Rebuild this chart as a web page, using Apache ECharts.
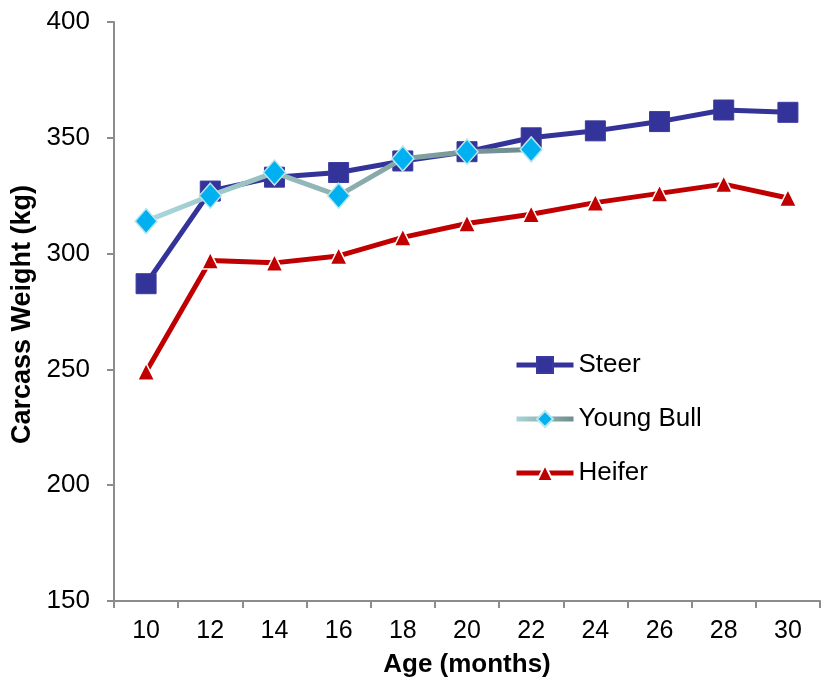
<!DOCTYPE html>
<html>
<head>
<meta charset="utf-8">
<script src="https://cdn.jsdelivr.net/npm/echarts@6/dist/echarts.min.js"></script>
<style>
  html, body { margin: 0; padding: 0; background: #fff; }
  #chart { width: 821px; height: 679px; }
</style>
</head>
<body>
<div id="chart"></div>
<script>
// Carcass weight by age at slaughter
const ages = ['10', '12', '14', '16', '18', '20', '22', '24', '26', '28', '30'];
const steer = [287, 327, 333, 335, 340, 344, 350, 353, 357, 362, 361];
const youngBull = [314, 325, 335, 325, 341, 344, 345, null, null, null, null];
const heifer = [249, 297, 296, 299, 307, 313, 317, 322, 326, 330, 324];
const yTicks = { min: 150, max: 400, step: 50 };

const font = 'Liberation Sans, Arial, sans-serif';
const axisGray = '#8c8c8c';

const chart = echarts.init(document.getElementById('chart'), null, { renderer: 'canvas' });

chart.setOption({
  animation: false,
  backgroundColor: '#ffffff',
  grid: {
    left: 114, right: 1, top: 22, bottom: 78,
    containLabel: false,
    outerBoundsMode: 'none'
  },
  legend: {
    orient: 'vertical',
    left: 509,
    top: 347,
    itemWidth: 57,
    itemHeight: 20,
    itemGap: 28,
    lineStyle: { width: 5 },
    textStyle: { fontFamily: font, fontSize: 26, color: '#000' },
    data: ['Steer', 'Young Bull', 'Heifer']
  },
  xAxis: {
    type: 'category',
    data: ages,
    boundaryGap: true,
    name: 'Age (months)',
    nameLocation: 'middle',
    nameGap: 51,
    nameTextStyle: { fontFamily: font, fontSize: 26, fontWeight: 'bold', color: '#000' },
    axisLine: { lineStyle: { color: axisGray, width: 2 } },
    axisTick: { show: true, alignWithLabel: false, length: 7, lineStyle: { color: axisGray, width: 2 } },
    axisLabel: { fontFamily: font, fontSize: 25, color: '#000', margin: 18 },
    splitLine: { show: false }
  },
  yAxis: {
    type: 'value',
    min: yTicks.min,
    max: yTicks.max,
    interval: yTicks.step,
    name: 'Carcass Weight (kg)',
    nameLocation: 'middle',
    nameGap: 77,
    nameRotate: 90,
    nameTextStyle: { fontFamily: font, fontSize: 27, fontWeight: 'bold', color: '#000', padding: [0, 0, 0, -6] },
    axisLine: { show: true, lineStyle: { color: axisGray, width: 2 } },
    axisTick: { show: true, length: 7, lineStyle: { color: axisGray, width: 2 } },
    axisLabel: { fontFamily: font, fontSize: 26, color: '#000', margin: 24 },
    splitLine: { show: false }
  },
  series: [
    {
      name: 'Steer',
      type: 'line',
      data: steer,
      symbol: 'rect',
      symbolSize: 20,
      itemStyle: { color: '#333399', borderColor: '#3a3a9e', borderWidth: 1 },
      lineStyle: { color: '#333399', width: 5 },
      z: 2
    },
    {
      name: 'Young Bull',
      type: 'line',
      data: youngBull,
      symbol: 'diamond',
      symbolSize: [22, 25],
      itemStyle: { color: '#00b0f0', borderColor: '#b7e6ec', borderWidth: 1.5 },
      lineStyle: {
        width: 5,
        color: {
          type: 'linear', x: 0, y: 0, x2: 1, y2: 0,
          colorStops: [
            { offset: 0, color: '#a9d8dc' },
            { offset: 0.5, color: '#8eb0b2' },
            { offset: 1, color: '#6c8a8a' }
          ]
        }
      },
      z: 3
    },
    {
      name: 'Heifer',
      type: 'line',
      data: heifer,
      symbol: 'triangle',
      symbolSize: 17,
      itemStyle: { color: '#c00000', borderColor: '#ffffff', borderWidth: 1.5 },
      lineStyle: { color: '#c00000', width: 5 },
      z: 2
    }
  ]
});
</script>
</body>
</html>
